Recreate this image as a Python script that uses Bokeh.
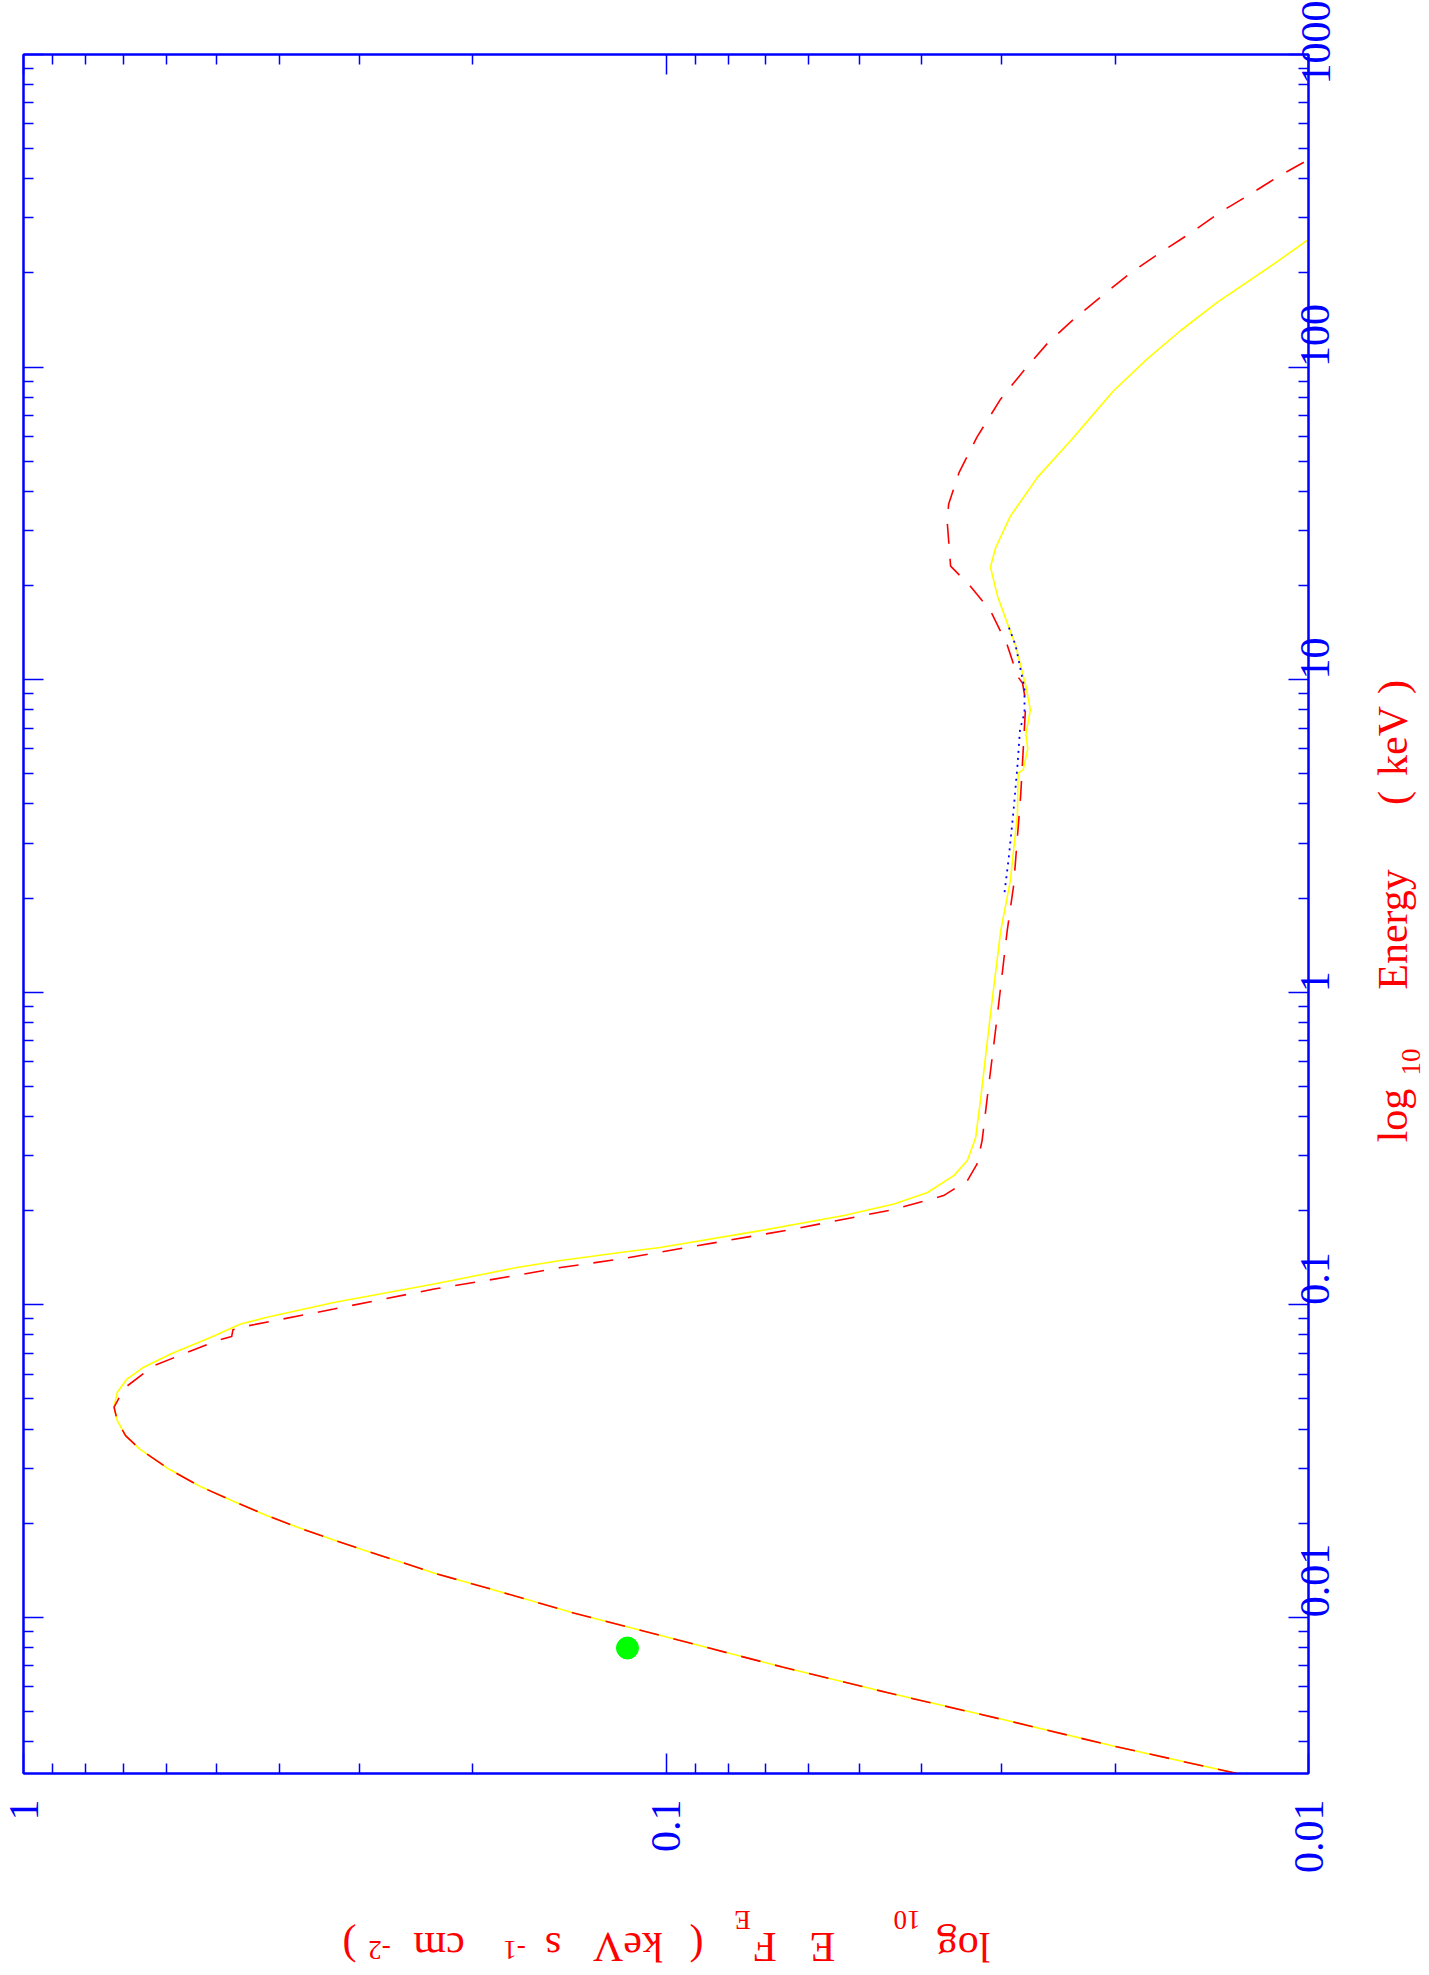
import math
from bokeh.plotting import figure
from bokeh.models import Range1d, LogAxis, FixedTicker, Label
from bokeh.layouts import column, row
from bokeh.embed import file_html
from bokeh.resources import INLINE

# ---------------- data ----------------
energy_ticks = [0.01, 0.1, 1, 10, 100, 1000]
energy_tick_labels = ["0.01", "0.1", "1", "10", "100", "1000"]
flux_ticks = [0.01, 0.1, 1]
flux_tick_labels = ["0.01", "0.1", "1"]

# solid yellow model (energy keV, E*F_E)
yellow_energy = [0.00316, 0.00388, 0.00467, 0.00574, 0.00693, 0.00845, 0.01030, 0.01245,
                 0.01380, 0.01497, 0.01626, 0.01766, 0.01928, 0.02113, 0.02360, 0.02618,
                 0.02979, 0.03451, 0.03811, 0.04256, 0.04699, 0.05248, 0.05781, 0.06310,
                 0.06950, 0.07852, 0.08670, 0.09120, 0.1016, 0.1164, 0.1315, 0.1384,
                 0.1469, 0.1524, 0.1726, 0.1928, 0.2099, 0.2286, 0.2588, 0.2891,
                 0.3428, 0.4603, 0.8511, 1.574, 2.275, 3.707, 5.023, 5.140,
                 5.998, 6.683, 7.980, 9.376, 12.91, 15.17, 18.49, 22.91,
                 26.42, 33.34, 44.36, 58.88, 69.02, 84.14, 106.2, 130.9,
                 161.1, 213.8, 254.1]
yellow_flux = [0.0129, 0.02021, 0.02944, 0.04529, 0.06592, 0.09572, 0.1388, 0.1910,
               0.2285, 0.2574, 0.2917, 0.3289, 0.3715, 0.4175, 0.4733, 0.5303,
               0.5940, 0.6592, 0.6937, 0.7145, 0.7228, 0.7145, 0.6902, 0.6501,
               0.5902, 0.5117, 0.4592, 0.4178, 0.3289, 0.2296, 0.1706, 0.1459,
               0.1178, 0.1021, 0.07129, 0.05284, 0.04416, 0.03917, 0.03565, 0.03396,
               0.03296, 0.03236, 0.03126, 0.03013, 0.02911, 0.02838, 0.02831, 0.02780,
               0.02735, 0.02753, 0.02710, 0.02748, 0.02858, 0.02944, 0.03048, 0.03126,
               0.03069, 0.02911, 0.02642, 0.02333, 0.02183, 0.02009, 0.01782, 0.01581,
               0.01387, 0.01132, 0.01005]

# dashed red model
red_energy = [0.00316, 0.00388, 0.00467, 0.00574, 0.00693, 0.00845, 0.01030, 0.01245,
              0.01380, 0.01497, 0.01626, 0.01766, 0.01928, 0.02113, 0.02360, 0.02618,
              0.02979, 0.03451, 0.03811, 0.04256, 0.04699, 0.05408, 0.06383, 0.07709,
              0.07907, 0.08318, 0.08570, 0.09683, 0.1122, 0.1247, 0.1315, 0.1400,
              0.1746, 0.2018, 0.2234, 0.2495, 0.2818, 0.3350, 0.4603, 0.8511,
              1.574, 2.193, 4.276, 6.546, 8.433, 9.727, 10.26, 12.91,
              16.60, 19.86, 23.07, 32.14, 36.48, 45.92, 59.70, 79.07,
              97.50, 118.6, 142.6, 170.6, 200.0, 232.8, 267.9, 313.3,
              358.1, 410.2, 458.1]
red_flux = [0.0129, 0.02021, 0.02944, 0.04529, 0.06592, 0.09572, 0.1388, 0.1910,
            0.2285, 0.2574, 0.2917, 0.3289, 0.3715, 0.4175, 0.4733, 0.5303,
            0.5940, 0.6592, 0.6937, 0.7145, 0.7228, 0.6966, 0.6266, 0.4966,
            0.4742, 0.4721, 0.4457, 0.3289, 0.2296, 0.1683, 0.1459, 0.1178,
            0.06324, 0.04416, 0.03698, 0.03396, 0.03281, 0.03221, 0.03162, 0.03048,
            0.02944, 0.02877, 0.02805, 0.02773, 0.02754, 0.02786, 0.02838, 0.02944,
            0.03126, 0.03357, 0.03606, 0.03651, 0.03631, 0.03499, 0.03281, 0.03013,
            0.02773, 0.02553, 0.02317, 0.02084, 0.01892, 0.01698, 0.01528, 0.01371,
            0.01230, 0.01107, 0.01005]

# dotted blue data model
blue_energy = [2.089, 2.685, 3.837, 5.297, 6.918, 7.834, 9.376, 12.91, 15.17]
blue_flux = [0.02972, 0.02928, 0.02877, 0.02838, 0.02812, 0.02767, 0.02767, 0.02858, 0.02944]

# green point
point_energy = [0.00797]
point_flux = [0.1148]

# ---------------- styles ----------------
BLUE = "#0000ff"
RED = "#ff0000"
FONT = "Liberation Serif"
E_MIN = 10 ** -2.5

MAIN_W, MAIN_H = 1371, 1895
SIDE_W = 54
BOTTOM_H = 75
B_LEFT, B_TOP, B_RIGHT, B_BOTTOM = 23, 54, 63, 122

# ---------------- main figure ----------------
p = figure(width=MAIN_W, height=MAIN_H,
           x_axis_type="log", y_axis_type="log",
           x_range=Range1d(1, 0.01), y_range=Range1d(E_MIN, 1000),
           x_axis_location="below", y_axis_location="right",
           output_backend="svg", toolbar_location=None,
           min_border_left=B_LEFT, min_border_top=B_TOP,
           min_border_right=B_RIGHT, min_border_bottom=B_BOTTOM)
p.background_fill_color = "white"
p.border_fill_color = "white"
p.outline_line_color = BLUE
p.outline_line_width = 2
p.xgrid.visible = False
p.ygrid.visible = False

energy_minor = [m * 10.0 ** k for k in range(-3, 3) for m in range(2, 10) if m * 10.0 ** k >= E_MIN]
flux_minor = [m * 10.0 ** k for k in (-2, -1) for m in range(2, 10)]


def style(ax, labels):
    ax.axis_line_color = BLUE
    ax.axis_line_width = 2
    ax.major_tick_line_color = BLUE
    ax.minor_tick_line_color = BLUE
    ax.major_tick_line_width = 1.5
    ax.minor_tick_line_width = 1.5
    ax.major_tick_in = 20
    ax.major_tick_out = 0
    ax.minor_tick_in = 10
    ax.minor_tick_out = 0
    ax.major_label_text_font = FONT
    ax.major_label_text_color = BLUE
    ax.major_label_text_font_style = "normal"
    if labels:
        ax.major_label_text_font_size = "42px"
    else:
        ax.major_label_text_font_size = "1px"
        ax.major_label_text_alpha = 0
        ax.major_label_standoff = 0


xb = p.below[0]
xb.ticker = FixedTicker(ticks=flux_ticks, minor_ticks=flux_minor)
xb.major_label_overrides = dict(zip(flux_ticks, flux_tick_labels))
style(xb, True)
xb.major_label_orientation = math.pi / 2
xb.major_label_standoff = 26

yr = p.right[0]
yr.ticker = FixedTicker(ticks=energy_ticks, minor_ticks=energy_minor)
yr.major_label_overrides = dict(zip(energy_ticks, energy_tick_labels))
style(yr, True)
yr.major_label_orientation = math.pi / 2
yr.major_label_standoff = 7

xt = LogAxis(ticker=FixedTicker(ticks=flux_ticks, minor_ticks=flux_minor))
style(xt, False)
p.add_layout(xt, "above")

yl = LogAxis(ticker=FixedTicker(ticks=energy_ticks, minor_ticks=energy_minor))
style(yl, False)
p.add_layout(yl, "left")

# ---------------- curves ----------------
p.line(yellow_flux, yellow_energy, line_color="#ffff00", line_width=1.6)
p.line(red_flux, red_energy, line_color=RED, line_width=1.6, line_dash="20 15")
p.line(blue_flux, blue_energy, line_color=BLUE, line_width=1.8, line_dash="2 5")
p.scatter(point_flux, point_energy, size=22, fill_color="#00ff00", line_color="#00ff00")


# ---------------- title panels ----------------
def blank(width, height, top=0, bottom=0):
    f = figure(width=width, height=height, x_range=Range1d(0, 1), y_range=Range1d(0, 1),
               x_axis_location=None, y_axis_location=None,
               output_backend="svg", toolbar_location=None,
               min_border_left=0, min_border_right=0,
               min_border_top=top, min_border_bottom=bottom)
    f.outline_line_color = None
    f.background_fill_color = "white"
    f.border_fill_color = "white"
    f.grid.visible = False
    return f


# side panel: its frame has the same vertical extent as the main frame
side = blank(SIDE_W, MAIN_H, top=B_TOP, bottom=B_BOTTOM)
bottom = blank(MAIN_W + SIDE_W, BOTTOM_H)

# energy title: rotated 90 deg, reads bottom to top
# (text, box-centre x from panel left, centre y above the frame bottom, size)
energy_title = [
    ("log", 21, 658, "42px"),
    ("10", 39, 711.5, "27px"),
    ("Energy", 21, 844, "42px"),
    ("(", 21, 975.5, "42px"),
    ("keV", 21, 1032.5, "42px"),
    (")", 21, 1086.5, "42px"),
]
for txt, sx, sy, fs in energy_title:
    side.add_layout(Label(x=sx, y=sy, x_units="screen", y_units="screen", text=txt,
                          angle=math.pi / 2, text_align="center", text_baseline="middle",
                          text_font=FONT, text_font_size=fs, text_color=RED))

# flux title: rotated 180 deg (text, centre x, box-centre y, size)
flux_title = [
    ("log", 963, 24, "42px"),
    ("10", 906.5, 51, "27px"),
    ("E", 822, 24, "42px"),
    ("F", 764.5, 24, "42px"),
    ("E", 742, 51, "27px"),
    ("(", 696, 24, "42px"),
    ("keV", 627.5, 24, "42px"),
    ("s", 552.5, 24, "42px"),
    ("-1", 514, 21, "27px"),
    ("cm", 438.5, 24, "42px"),
    ("-2", 379, 21, "27px"),
    (")", 349, 24, "42px"),
]
for txt, sx, sy, fs in flux_title:
    bottom.add_layout(Label(x=sx, y=sy, x_units="screen", y_units="screen", text=txt,
                            angle=math.pi, text_align="center", text_baseline="middle",
                            text_font=FONT, text_font_size=fs, text_color=RED))

layout = column(row(p, side), bottom)
open("out.html", "w").write(file_html(layout, INLINE))
